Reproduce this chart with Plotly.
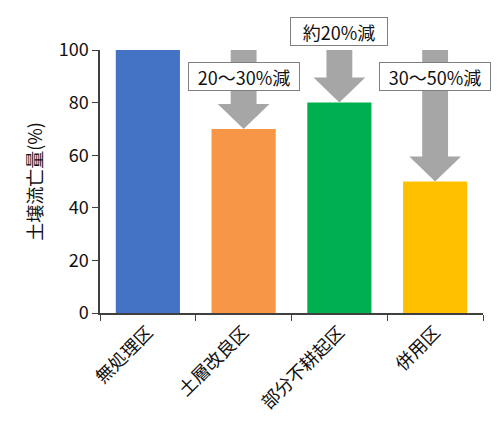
import plotly.graph_objects as go

# data
categories = ["無処理区", "土層改良区", "部分不耕起区", "併用区"]
soil_loss = [100, 70, 80, 50]
reduction_labels = ["", "20～30%減", "約20%減", "30～50%減"]
bar_colors = ["#4472C4", "#F79646", "#00B050", "#FFC000"]

FONT = "Noto Sans CJK JP"
ARROW = "#A6A6A6"

fig = go.Figure()

fig.add_trace(go.Bar(
    x=categories, y=soil_loss,
    marker=dict(color=bar_colors, line=dict(width=0)),
    width=0.67, hoverinfo="x+y", showlegend=False
))

# reduction arrows from the control level (first bar) down to each bar
base = soil_loss[0]
shaft_hw, head_hw, head_h = 0.135, 0.27, 9.5
for i, (val, lab) in enumerate(zip(soil_loss, reduction_labels)):
    if i == 0:
        continue
    xs = [i - shaft_hw, i + shaft_hw, i + shaft_hw, i + head_hw, i,
          i - head_hw, i - shaft_hw, i - shaft_hw]
    ys = [base, base, val + head_h, val + head_h, val,
          val + head_h, val + head_h, base]
    fig.add_trace(go.Scatter(
        x=xs, y=ys, xaxis="x2", yaxis="y", mode="lines",
        fill="toself", fillcolor=ARROW, line=dict(width=0, color=ARROW),
        hoverinfo="skip", showlegend=False
    ))
    # label box sits on the arrow; short arrow -> box above the plot
    label_y = 107 if val > 75 else 90
    fig.add_annotation(
        x=i, y=label_y / base, xref="x2", yref="paper", text=lab,
        showarrow=False,
        font=dict(family=FONT, size=18, color="#111"),
        bgcolor="white", bordercolor="#7F7F7F", borderwidth=1,
        width=104 if "～" in lab else 90, height=21, borderpad=3,
        xanchor="center", yanchor="middle"
    )

fig.update_layout(
    width=500, height=430,
    margin=dict(l=92, r=25, t=42, b=125),
    paper_bgcolor="white", plot_bgcolor="white",
    font=dict(family=FONT, size=18, color="#111"),
    xaxis=dict(
        type="category", range=[-0.5, 3.5], showline=True,
        linecolor="#404040", linewidth=1.5, ticks="outside",
        tickson="boundaries", ticklen=6, tickcolor="#404040",
        tickangle=-45, showgrid=False, zeroline=False,
        tickfont=dict(family=FONT, size=18)
    ),
    xaxis2=dict(overlaying="x", range=[-0.5, 3.5], visible=False),
    yaxis=dict(
        range=[0, 100], dtick=20, showline=True, linecolor="#404040",
        linewidth=1.5, ticks="outside", ticklen=6, tickcolor="#404040",
        showgrid=False, zeroline=False,
        tickfont=dict(family=FONT, size=18),
        title=dict(text="土壌流亡量(%)", font=dict(family=FONT, size=18,
                                                  color="#111"),
                   standoff=11)
    ),
)

fig.write_html("out.html")
